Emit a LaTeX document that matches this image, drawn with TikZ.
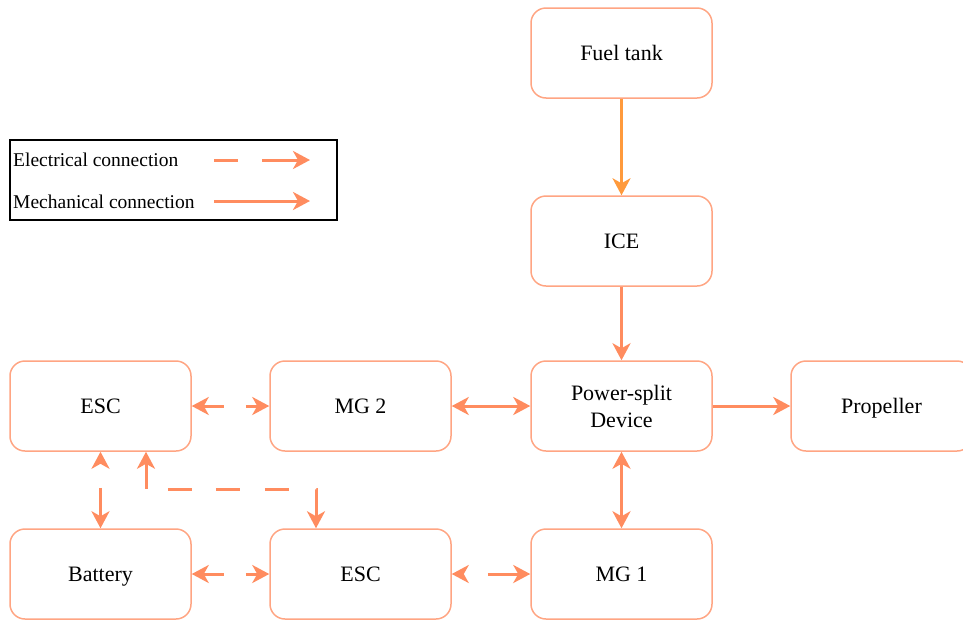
\documentclass[tikz,border=0pt]{standalone}
\usepackage{fontspec}
\setmainfont{Liberation Serif}
\usetikzlibrary{arrows.meta}
\definecolor{boxc}{HTML}{FFA583}
\definecolor{arrc}{HTML}{FF8C5F}
\definecolor{fuelc}{HTML}{FF9A3C}
\begin{document}
\begin{tikzpicture}[x=1pt,y=-1pt,
 blk/.style={draw=boxc, line width=1.5pt, rounded corners=15pt, minimum width=181pt, minimum height=90pt, inner sep=0pt, align=center, font=\fontsize{22}{27}\selectfont, text=black},
 one/.style={text height=15.5pt, text depth=0.5pt},
 tipa/.tip={Stealth[length=17pt,width=18pt,inset=5pt]},
 conn/.style={draw=arrc, line width=3pt, -tipa},
 conn2/.style={draw=arrc, line width=3pt, tipa-tipa},
 legtxt/.style={anchor=west, inner sep=0pt, font=\fontsize{19.5}{23}\selectfont},
 elecA/.style={dash pattern=on 21pt off 22pt on 60pt off 1pt},
 elecB/.style={dash pattern=on 1pt off 24pt on 60pt off 1pt}]
\useasboundingbox (0,0) rectangle (963,619);
\begin{scope}
\clip (0,0) rectangle (963,619);
\node[blk, one] (fuel) at (621.5,53) {Fuel tank};
\node[blk, one] (ice) at (621.5,241) {ICE};
\node[blk] (psd) at (621.5,406) {Power-split\\Device};
\node[blk, one] (prop) at (881.5,406) {Propeller};
\node[blk, one] (esc1) at (100.5,406) {ESC};
\node[blk, one] (mg2) at (360.5,406) {MG 2};
\node[blk, one] (bat) at (100.5,574) {Battery};
\node[blk, one] (esc2) at (360.5,574) {ESC};
\node[blk, one] (mg1) at (621.5,574) {MG 1};
\end{scope}

% legend
\node[draw=black, line width=1.2pt, minimum width=327pt, minimum height=80pt, inner sep=0pt] (leg) at (173.5,180) {};
\node[legtxt] (lt1) at (13,160) {Electrical connection};
\node[legtxt] (lt2) at (13,202) {Mechanical connection};
\coordinate (a1) at (214,160);
\coordinate (a2) at (310,160);
\coordinate (b1) at (214,201);
\coordinate (b2) at (310,201);
\draw[conn, dash pattern=on 24pt off 24pt on 60pt off 1pt] (a1) -- (a2);
\draw[conn] (b1) -- (b2);

% mechanical
\draw[conn, draw=fuelc, line width=2.2pt] (fuel) -- (ice);
\draw[conn] (ice) -- (psd);
\draw[conn2] (mg2) -- (psd);
\draw[conn] (psd) -- (prop);
\draw[conn2] (psd) -- (mg1);

% electrical
\draw[conn2, elecA] (esc1) -- (mg2);
\draw[conn2, elecA] (bat) -- (esc2);
\draw[conn2, elecB] (esc1) -- (bat);
\draw[conn2, elecB] (esc2) -- (mg1);
\coordinate (c1) at (146,489);
\coordinate (c2) at (316,489);
\draw[conn2, dash pattern=on 26pt off 22pt on 24pt off 24pt on 24pt off 25pt on 24pt off 27pt on 60pt off 1pt]
  (esc1.south -| c1) -- (c1) -- (c2) -- (esc2.north -| c2);
\end{tikzpicture}
\end{document}
